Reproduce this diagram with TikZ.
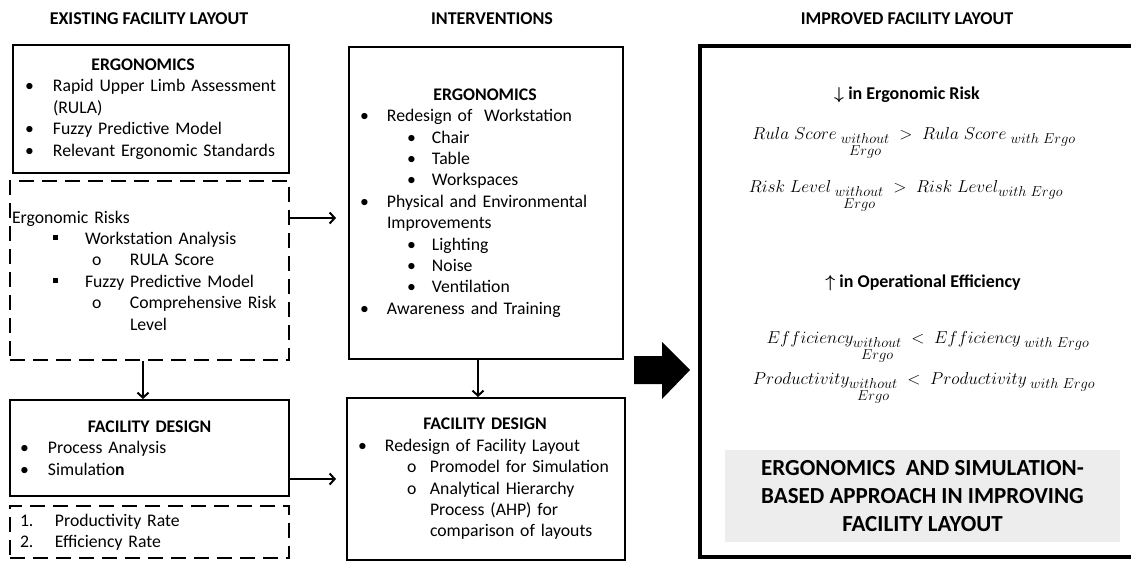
\documentclass[tikz,border=0pt]{standalone}
\usepackage{amsmath}
\usepackage{amssymb}
\usepackage{fontspec}
\setmainfont{Carlito}
\usepackage{tikz}
\usetikzlibrary{arrows.meta}
\DeclareMathSizes{18}{18}{15}{11}

\newcommand{\mk}[2]{\makebox[#1pt][l]{#2}}
\newcommand{\sqbul}{\rule[4pt]{5pt}{5pt}}
\newcommand{\tightsp}{\spaceskip=3pt plus 1pt\relax}

\begin{document}
\begin{tikzpicture}[x=1pt,y=-1pt,
	box/.style={draw, line width=2pt, inner sep=0pt, align=left, font=\fontsize{17.7}{21.4}\selectfont\tightsp},
	dbox/.style={box, line width=2.5pt, dash pattern=on 15pt off 8pt},
	head/.style={font=\fontsize{18}{21}\selectfont\bfseries},
	eq/.style={font=\fontsize{18}{21}\selectfont},
	conn/.style={line width=2pt, -{Straight Barb[length=5pt,width=11pt]}}]
		\useasboundingbox (0,0) rectangle (1131,562);
		% column titles
		\node[head] (existing) at (149,19) {EXISTING FACILITY LAYOUT};
		\node[head] (interv) at (492,19) {INTERVENTIONS};
		\node[head] (improvedtitle) at (907,19) {IMPROVED FACILITY LAYOUT};
		% existing layout
		\node[box, text width=276pt, minimum height=128pt] (ergo) at (151,109) {\makebox[260pt][c]{\bfseries ERGONOMICS}\\
			\hspace*{12pt}\mk{28}{\textbullet}Rapid Upper Limb Assessment\\
			\hspace*{40pt}(RULA)\\
			\hspace*{12pt}\mk{28}{\textbullet}Fuzzy Predictive Model\\
			\hspace*{12pt}\mk{28}{\textbullet}Relevant Ergonomic Standards};
		\node[dbox, text width=279pt, minimum height=179pt] (risks) at (149.5,270.5) {\hspace*{2pt}Ergonomic Risks\\
			\hspace*{43pt}\mk{32}{\sqbul}Workstation Analysis\\
			\hspace*{82pt}\mk{38}{o}RULA Score\\
			\hspace*{43pt}\mk{32}{\sqbul}Fuzzy Predictive Model\\
			\hspace*{82pt}\mk{38}{o}Comprehensive Risk\\
			\hspace*{120pt}Level};
		\node[box, text width=279pt, minimum height=96pt] (facdes) at (149.5,448) {\makebox[279pt][c]{\bfseries FACILITY DESIGN}\\
			\hspace*{10pt}\mk{28}{\textbullet}Process Analysis\\
			\hspace*{10pt}\mk{28}{\textbullet}Simulatio\textbf{n}};
		\node[dbox, text width=279pt, minimum height=52pt] (rates) at (149.5,532) {\hspace*{10pt}\mk{35}{1.}Productivity Rate\\
			\hspace*{10pt}\mk{35}{2.}Efficiency Rate};
		% interventions
		\node[box, text width=274pt, minimum height=312pt] (intergo) at (486,203) {\makebox[272pt][c]{\bfseries ERGONOMICS}\\
			\hspace*{11pt}\mk{27}{\textbullet}Redesign of~ Workstation\\
			\hspace*{58pt}\mk{25}{\textbullet}Chair\\
			\hspace*{58pt}\mk{25}{\textbullet}Table\\
			\hspace*{58pt}\mk{25}{\textbullet}Workspaces\\
			\hspace*{11pt}\mk{27}{\textbullet}Physical and Environmental\\
			\hspace*{38pt}Improvements\\
			\hspace*{58pt}\mk{25}{\textbullet}Lighting\\
			\hspace*{58pt}\mk{25}{\textbullet}Noise\\
			\hspace*{58pt}\mk{25}{\textbullet}Ventilation\\
			\hspace*{11pt}\mk{27}{\textbullet}Awareness and Training};
		\node[box, text width=278pt, minimum height=162pt] (intfac) at (486,479) {\makebox[276pt][c]{\bfseries FACILITY DESIGN}\\
			\hspace*{11pt}\mk{27}{\textbullet}Redesign of Facility Layout\\
			\hspace*{60pt}\mk{23}{o}Promodel for Simulation\\
			\hspace*{60pt}\mk{23}{o}Analytical Hierarchy\\
			\hspace*{83pt}Process (AHP) for\\
			\hspace*{83pt}comparison of layouts};
		% improved layout
		\node[draw, line width=3.5pt, minimum width=435pt, minimum height=511pt, inner sep=0pt] (improved) at (917.5,301.5) {};
		\node[head] (lessrisk) at (907,95) {{\boldmath$\downarrow$} in Ergonomic Risk};
		\node[eq] (rula) at (914,143) {$Rula\;Score_{\;\substack{without\\ Ergo}} \;>\; Rula\;Score_{\;with\;Ergo}$};
		\node[eq] (risklvl) at (906,196) {$Risk\;Level_{\;\substack{without\\ Ergo}} \;>\; Risk\;Level_{with\;Ergo}$};
		\node[head] (moreeff) at (923,283) {{\boldmath$\uparrow$} in Operational Efficiency};
		\node[eq] (effic) at (928,347) {$Efficiency_{\substack{without\\ Ergo}} \;<\; Efficiency_{\;with\;Ergo}$};
		\node[eq] (prod) at (924,388) {$Productivity_{\substack{without\\ Ergo}} \;<\; Productivity_{\;with\;Ergo}$};
		\node[fill=black!7, minimum width=395pt, minimum height=92pt, align=center, font=\fontsize{23}{28}\selectfont\bfseries] (approach) at (922.5,496) {ERGONOMICS~ AND SIMULATION-\\BASED APPROACH IN IMPROVING\\FACILITY LAYOUT};
		% connectors
		\draw[conn, shorten >=12pt] (risks.east |- 0,218) -- (intergo.west |- 0,218);
		\draw[conn] (risks.south -| 143,0) -- (facdes.north -| 143,0);
		\draw[conn, shorten >=10pt] (facdes.east |- 0,479) -- (intfac.west |- 0,479);
		\draw[conn] (intergo.south -| 478,0) -- (intfac.north -| 478,0);
		\fill[black] (634,356) -- (662,356) -- (662,342) -- (690,370) -- (662,399) -- (662,384) -- (634,384) -- cycle;
		\end{tikzpicture}
\end{document}
